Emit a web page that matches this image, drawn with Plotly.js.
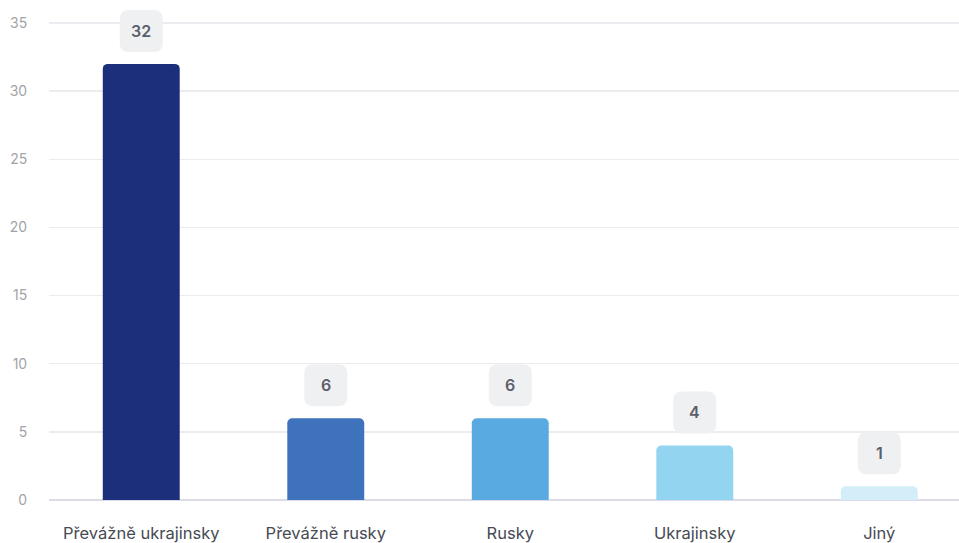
<!DOCTYPE html>
<html>
<head>
<meta charset="utf-8">
<script src="https://cdn.plot.ly/plotly-3.0.1.min.js"></script>
<style>
  html, body { margin: 0; padding: 0; background: #ffffff; }
  #chart { width: 959px; height: 543px; }
</style>
</head>
<body>
<div id="chart"></div>
<script>
// Language categories and respondent counts
const categories = ["Převážně ukrajinsky", "Převážně rusky", "Rusky", "Ukrajinsky", "Jiný"];
const counts = [32, 6, 6, 4, 1];
const barColors = ["#1c2f7b", "#3e72bd", "#5aaae2", "#93d4f0", "#d4eef9"];
const yTicks = [0, 5, 10, 15, 20, 25, 30, 35];

// Rounded label badge, in pixels relative to the top of each bar (y up)
const badgePath =
  "M -12.5,12 L 12.5,12 Q 21.5,12 21.5,21 L 21.5,45 Q 21.5,54 12.5,54 " +
  "L -12.5,54 Q -21.5,54 -21.5,45 L -21.5,21 Q -21.5,12 -12.5,12 Z";

const badges = categories.map((c, i) => ({
  type: "path",
  xref: "x", yref: "y",
  xsizemode: "pixel", ysizemode: "pixel",
  xanchor: c, yanchor: counts[i],
  path: badgePath,
  fillcolor: "#eff0f2",
  line: { width: 0 },
  layer: "above"
}));

const labels = categories.map((c, i) => ({
  x: c, y: counts[i],
  xref: "x", yref: "y",
  text: String(counts[i]),
  showarrow: false,
  yshift: 33,
  yanchor: "middle",
  font: { family: "Inter, 'Open Sans', sans-serif", size: 16, color: "#5b5f6b", weight: 600 }
}));

const trace = {
  type: "bar",
  x: categories,
  y: counts,
  width: 0.417,
  marker: { color: barColors, cornerradius: 5, line: { width: 0 } },
  hoverinfo: "x+y"
};

const layout = {
  width: 959,
  height: 543,
  margin: { l: 49, r: 0, t: 0, b: 43 },
  paper_bgcolor: "#ffffff",
  plot_bgcolor: "#ffffff",
  showlegend: false,
  font: { family: "Inter, 'Open Sans', sans-serif" },
  xaxis: {
    type: "category",
    range: [-0.5, 4.432],
    showgrid: false,
    zeroline: false,
    showline: false,
    ticks: "outside",
    ticklen: 18,
    tickcolor: "rgba(0,0,0,0)",
    tickfont: { size: 16.5, color: "#474a52" }
  },
  yaxis: {
    range: [0, 36.69],
    tickvals: yTicks,
    ticktext: yTicks.map(String),
    showgrid: true,
    gridcolor: "#ececf0",
    gridwidth: 1.5,
    zeroline: true,
    zerolinecolor: "#dcdce8",
    zerolinewidth: 1.5,
    showline: false,
    ticks: "outside",
    ticklen: 18,
    tickcolor: "rgba(0,0,0,0)",
    tickfont: { size: 14, color: "#a3a3a7" }
  },
  shapes: badges,
  annotations: labels
};

Plotly.newPlot("chart", [trace], layout, { displayModeBar: false, staticPlot: true });
</script>
</body>
</html>
